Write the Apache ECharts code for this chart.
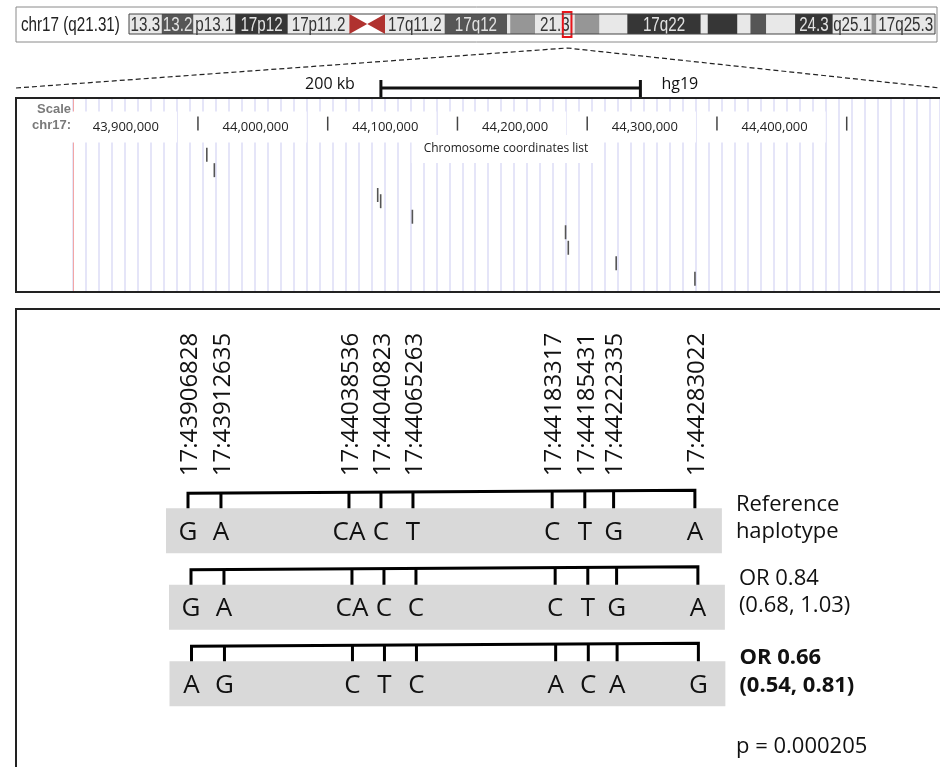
<!DOCTYPE html>
<html>
<head>
<meta charset="utf-8">
<title>chr17 q21.31 haplotypes</title>
<script src="https://cdn.jsdelivr.net/npm/echarts@6/dist/echarts.min.js"></script>
<style>
html, body { margin: 0; padding: 0; background: #fff; }
#chart { width: 940px; height: 767px; }
</style>
</head>
<body>
<div id="chart"></div>
<script>
// chr17 cytobands (hg19)
let bandName  = ['p13.3','p13.2','p13.1','p12','p11.2','p11.1','q11.1','q11.2','q12','q21.1','q21.2','q21.31','q21.32','q21.33','q22','q23.1','q23.2','q23.3','q24.1','q24.2','q24.3','q25.1','q25.2','q25.3'];
let bandStart = [0,3300000,6500000,10700000,16000000,22200000,24000000,25800000,31800000,38100000,38400000,40900000,44900000,47400000,50200000,57600000,58300000,61300000,62600000,64200000,67100000,70900000,74800000,75300000];
let bandEnd   = [3300000,6500000,10700000,16000000,22200000,24000000,25800000,31800000,38100000,38400000,40900000,44900000,47400000,50200000,57600000,58300000,61300000,62600000,64200000,67100000,70900000,74800000,75300000,81195210];
let bandStain = ['gneg','gpos50','gneg','gpos75','gneg','acen','acen','gneg','gpos50','gneg','gpos25','gneg','gpos25','gneg','gpos75','gneg','gpos75','gneg','gpos50','gneg','gpos75','gneg','gpos25','gneg'];
let bandLabel = ['13.3','13.2','p13.1','17p12','17p11.2','','','17q11.2','17q12','','','21.3','','','17q22','','','','','','24.3','q25.1','','17q25.3'];

// browser window
let viewRange   = [43803700, 44471900];
let coordTicks  = [43900000, 44000000, 44100000, 44200000, 44300000, 44400000];
let scaleBar    = [44041000, 44241000];

// SNPs
let snpPos      = [43906828, 43912635, 44038536, 44040823, 44065263, 44183317, 44185431, 44222335, 44283022];
let snpTrackRow = [0, 1, 2.6, 3, 4, 5, 6, 7, 8];
let snpSlot     = [0, 1.03, 5.03, 6.03, 7.03, 11.38, 12.4, 13.3, 15.84];   // schematic columns

// haplotypes
let hapAlleles = [
  ['G','A','CA','C','T','C','T','G','A'],
  ['G','A','CA','C','C','C','T','G','A'],
  ['A','G','C','T','C','A','C','A','G']
];
let hapOR     = [null, 0.84, 0.66];
let hapCILow  = [null, 0.68, 0.54];
let hapCIHigh = [null, 1.03, 0.81];
let pValue    = 0.000205;

const stainColor = { gneg: '#e8e8e8', gpos25: '#969696', gpos50: '#565656', gpos75: '#363636' };
const rowShift = [0, 3, 3.5];
const labelDy = [[-4, 23], [-6, 21], [-4, 24]];
const OS = '"Open Sans"';

function txt(x, y, text, font, align, extra, props) {
  return Object.assign({
    type: 'text', x: x, y: y,
    style: Object.assign({
      text: text, font: font, fill: '#111',
      align: align, verticalAlign: 'middle',
      textAlign: align, textVerticalAlign: 'middle'
    }, extra || {})
  }, props || {});
}

function renderBand(params, api) {
  let i = api.value(2);
  let a = api.coord([api.value(0), 1]);
  let b = api.coord([api.value(1), 0]);
  let stain = bandStain[i];
  if (stain === 'acen') {
    let mid = (a[1] + b[1]) / 2;
    let pts = bandName[i][0] === 'p'
      ? [[a[0], a[1]], [a[0], b[1]], [b[0], mid]]
      : [[a[0], mid], [b[0], a[1]], [b[0], b[1]]];
    return { type: 'polygon', shape: { points: pts }, style: { fill: '#b0322f' } };
  }
  let children = [{
    type: 'rect',
    shape: { x: a[0], y: a[1], width: b[0] - a[0], height: b[1] - a[1] },
    style: { fill: stainColor[stain] }
  }];
  if (bandLabel[i]) {
    children.push(txt((a[0] + b[0]) / 2, (a[1] + b[1]) / 2 + 1, bandLabel[i],
      '20px "Liberation Sans"', 'center',
      { fill: stain === 'gneg' ? '#333' : '#e2e2e2' }, { scaleX: 0.76 }));
  }
  return { type: 'group', children: children };
}

function renderView(params, api) {
  let a = api.coord([api.value(0), 1]);
  let b = api.coord([api.value(1), 0]);
  let apex = [(a[0] + b[0]) / 2, b[1] + 14];
  return {
    type: 'group',
    children: [
      { type: 'polyline', shape: { points: [[16, 88], apex, [940, 88]] },
        style: { stroke: '#222', lineWidth: 1.2, lineDash: [5, 3], fill: 'none' } },
      { type: 'rect', shape: { x: a[0] - 1, y: a[1] - 2, width: b[0] - a[0] + 2, height: b[1] - a[1] + 5 },
        style: { stroke: '#e8141a', lineWidth: 2, fill: 'none' } }
    ]
  };
}

function renderCoordLabel(params, api) {
  let top = api.coord([api.value(0), -2]);
  return txt(top[0] - 21, top[1] + 10.5, api.value(0).toLocaleString('en-US'), '13px ' + OS, 'right',
    { fill: '#222', backgroundColor: '#fff', padding: [9, 18, 9, 35] });
}

function renderCoordTick(params, api) {
  let top = api.coord([api.value(0), -2]);
  let bot = api.coord([api.value(0), -1.1]);
  return { type: 'line', shape: { x1: top[0], y1: top[1], x2: bot[0], y2: bot[1] },
    style: { stroke: '#444', lineWidth: 1.5 } };
}

function renderSnpMark(params, api) {
  let p0 = api.coord([api.value(0), api.value(1)]);
  let p1 = api.coord([api.value(0), api.value(1) + 0.9]);
  return { type: 'line', shape: { x1: p0[0], y1: p0[1], x2: p1[0], y2: p1[1] },
    style: { stroke: '#555', lineWidth: 1.6 } };
}

function renderScaleBar(params, api) {
  let s = api.value(0), e = api.value(1);
  let bl = api.coord([s, -3.84]), br = api.coord([e, -3.84]);
  let tTop = api.coord([s, -4.36])[1], tBot = api.coord([s, -3.2])[1];
  let ty = api.coord([s, -4.1])[1];
  return {
    type: 'group',
    children: [
      { type: 'line', shape: { x1: bl[0], y1: bl[1], x2: br[0], y2: br[1] }, style: { stroke: '#111', lineWidth: 3 } },
      { type: 'line', shape: { x1: bl[0], y1: tTop, x2: bl[0], y2: tBot }, style: { stroke: '#111', lineWidth: 3 } },
      { type: 'line', shape: { x1: br[0], y1: tTop, x2: br[0], y2: tBot }, style: { stroke: '#111', lineWidth: 3 } },
      txt(bl[0] - 26, ty, ((e - s) / 1000) + ' kb', '16px ' + OS, 'right'),
      txt(br[0] + 21, ty, 'hg19', '16px ' + OS, 'left')
    ]
  };
}

function renderSnpLabel(params, api) {
  let p = api.coord([api.value(0), 0]);
  return txt(p[0] + 2, p[1] - 32, '17:' + snpPos[api.value(2)], '24px ' + OS, 'left',
    { fill: '#111' }, { rotation: Math.PI / 2 });
}

function hapLabelLines(r) {
  if (hapOR[r] == null) return ['Reference', 'haplotype'];
  return ['OR ' + hapOR[r].toFixed(2), '(' + hapCILow[r].toFixed(2) + ', ' + hapCIHigh[r].toFixed(2) + ')'];
}

function renderHap(params, api) {
  let r = api.value(1);
  let xs = snpSlot.map(s => api.coord([s, r])[0] + rowShift[r]);
  let cy = api.coord([0, r])[1];
  let n = xs.length, xL = xs[0], xR = xs[n - 1];
  let yL = cy - 15, yR = cy - 18;
  let yAt = x => yL + (yR - yL) * (x - xL) / (xR - xL);
  let children = [];
  children.push({ type: 'rect', shape: { x: xL - 22, y: cy, width: xR - xL + 49, height: 45 }, style: { fill: '#d9d9d9' } });
  children.push({ type: 'polyline', shape: { points: [[xL, cy], [xL, yL], [xR, yR], [xR, cy]] },
    style: { stroke: '#000', lineWidth: 3, fill: 'none', lineJoin: 'miter' } });
  for (let i = 1; i < n - 1; i++) {
    children.push({ type: 'line', shape: { x1: xs[i], y1: yAt(xs[i]), x2: xs[i], y2: cy }, style: { stroke: '#000', lineWidth: 3 } });
  }
  hapAlleles[r].forEach((a, i) => children.push(txt(xs[i], cy + 24, a, '26px ' + OS, 'center')));
  let bold = r === hapOR.indexOf(Math.min(...hapOR.filter(v => v != null)));
  let lines = hapLabelLines(r);
  lines.forEach((t, k) => children.push(txt(xR + 41, cy + labelDy[r][k], t, (bold ? 'bold ' : '') + '22px ' + OS, 'left')));
  return { type: 'group', children: children };
}

let chart = echarts.init(document.getElementById('chart'), null, { renderer: 'canvas' });

let option = {
  animation: false,
  backgroundColor: '#fff',
  grid: [
    { left: 129, top: 14, width: 806, height: 20 },
    { left: 73, top: 98, width: 867, height: 194 },
    { left: 156, top: 470, width: 784, height: 229.5 }
  ],
  xAxis: [
    { gridIndex: 0, type: 'value', min: 0, max: bandEnd[bandEnd.length - 1], show: false },
    { gridIndex: 1, type: 'value', min: viewRange[0], max: viewRange[1], interval: 10000,
      axisLine: { show: false }, axisTick: { show: false }, axisLabel: { show: false },
      splitLine: { show: true, lineStyle: { color: '#dcdcf6', width: 1.5 } } },
    { gridIndex: 2, type: 'value', min: -1, max: 23.5, show: false }
  ],
  yAxis: [
    { gridIndex: 0, type: 'value', min: 0, max: 1, show: false },
    { gridIndex: 1, type: 'value', min: -3.2, max: 9.3, inverse: true,
      axisLine: { show: true, lineStyle: { color: '#f2a6a6', width: 1 } },
      axisTick: { show: false }, axisLabel: { show: false }, splitLine: { show: false } },
    { gridIndex: 2, type: 'category', data: ['ref', 'hap2', 'hap3'], inverse: true, show: false }
  ],
  series: [
    { type: 'custom', xAxisIndex: 0, yAxisIndex: 0, clip: false, renderItem: renderBand,
      encode: { x: [0, 1] }, data: bandStart.map((s, i) => [s, bandEnd[i], i]) },
    { type: 'custom', xAxisIndex: 0, yAxisIndex: 0, clip: false, renderItem: renderView, z: 5,
      encode: { x: [0, 1] }, data: [[viewRange[0], viewRange[1]]] },
    { type: 'custom', xAxisIndex: 1, yAxisIndex: 1, clip: false, renderItem: renderCoordLabel,
      encode: { x: 0, y: 1 }, data: coordTicks.map(v => [v, -2]) },
    { type: 'custom', xAxisIndex: 1, yAxisIndex: 1, clip: false, renderItem: renderCoordTick, z: 4,
      encode: { x: 0, y: 1 }, data: coordTicks.map(v => [v, -2]) },
    { type: 'custom', xAxisIndex: 1, yAxisIndex: 1, clip: false, renderItem: renderSnpMark,
      encode: { x: 0, y: 1 }, data: snpPos.map((p, i) => [p, snpTrackRow[i]]) },
    { type: 'custom', xAxisIndex: 1, yAxisIndex: 1, clip: false, renderItem: renderScaleBar,
      encode: { x: [0, 1] }, data: [[scaleBar[0], scaleBar[1]]] },
    { type: 'custom', xAxisIndex: 2, yAxisIndex: 2, clip: false, renderItem: renderSnpLabel,
      encode: { x: 0, y: 1 }, data: snpSlot.map((s, i) => [s, 0, i]) },
    { type: 'custom', xAxisIndex: 2, yAxisIndex: 2, clip: false, renderItem: renderHap,
      encode: { x: 0, y: 1 }, data: hapAlleles.map((h, r) => [0, r]) }
  ],
  graphic: [
    { type: 'rect', z: 1, shape: { x: 16, y: 7, width: 921, height: 35 }, style: { fill: 'none', stroke: '#8a8a8a', lineWidth: 1 } },
    { type: 'rect', z: 10, shape: { x: 129, y: 14, width: 806, height: 20 }, style: { fill: 'none', stroke: '#444', lineWidth: 1 } },
    { type: 'text', z: 10, x: 21, y: 25, scaleX: 0.76,
      style: { text: 'chr17 (q21.31)', font: '20px "Liberation Sans"', fill: '#222', textVerticalAlign: 'middle', verticalAlign: 'middle' } },
    { type: 'rect', z: 10, shape: { x: 16, y: 98, width: 930, height: 194 }, style: { fill: 'none', stroke: '#222', lineWidth: 2 } },
    { type: 'text', z: 10, x: 71, y: 109,
      style: { text: 'Scale', font: 'bold 13px "Liberation Sans"', fill: '#7a7a7a', textAlign: 'right', align: 'right', textVerticalAlign: 'middle', verticalAlign: 'middle' } },
    { type: 'text', z: 10, x: 71, y: 125,
      style: { text: 'chr17:', font: 'bold 13px "Liberation Sans"', fill: '#7a7a7a', textAlign: 'right', align: 'right', textVerticalAlign: 'middle', verticalAlign: 'middle' } },
    { type: 'text', z: 10, x: 506, y: 149,
      style: { text: 'Chromosome coordinates list', font: '12px ' + OS, fill: '#222', backgroundColor: '#fff', padding: [8, 12],
        textAlign: 'center', align: 'center', textVerticalAlign: 'middle', verticalAlign: 'middle' } },
    { type: 'rect', z: 10, shape: { x: 16, y: 309, width: 930, height: 470 }, style: { fill: 'none', stroke: '#222', lineWidth: 2 } },
    { type: 'text', z: 10, x: 736, y: 747,
      style: { text: 'p = ' + pValue, font: '22px ' + OS, fill: '#111', textVerticalAlign: 'middle', verticalAlign: 'middle' } }
  ]
};

chart.setOption(option);
</script>
</body>
</html>
